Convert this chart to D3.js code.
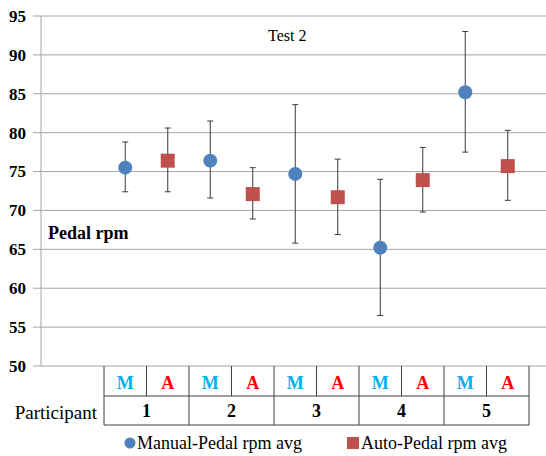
<!DOCTYPE html>
<html>
<head>
<meta charset="utf-8">
<script src="https://cdn.jsdelivr.net/npm/d3@7"></script>
<style>
  body { margin: 0; background: #fff; }
  #chart { position: relative; width: 546px; height: 456px; }
  #chart svg { position: absolute; left: 0; top: 0; display: block; }
  .lbl { position: absolute; white-space: nowrap; line-height: normal; font-family: "Liberation Serif", "Times New Roman", serif; color: #000; }
</style>
</head>
<body>
<div id="chart"></div>
<script>
const participants = ['1', '2', '3', '4', '5'];
const modes = ['M', 'A'];
const yTicks = [50, 55, 60, 65, 70, 75, 80, 85, 90, 95];

// Manual-Pedal rpm avg with error range
const manualAvg = [75.5, 76.4, 74.7, 65.2, 85.2];
const manualHi = [78.8, 81.5, 83.6, 74.0, 93.0];
const manualLo = [72.4, 71.6, 65.8, 56.5, 77.5];

// Auto-Pedal rpm avg with error range
const autoAvg = [76.4, 72.1, 71.7, 73.9, 75.7];
const autoHi = [80.6, 75.5, 76.6, 78.1, 80.3];
const autoLo = [72.4, 68.9, 66.9, 69.8, 71.3];

const width = 546, height = 456;
const axisX = 41;
const rowH = [30, 29];

const chart = d3.select('#chart');
const svg = chart.append('svg')
    .attr('width', width)
    .attr('height', height);

// text is laid out as html so the serif font is picked up
// y is the baseline, anchor like svg text-anchor
function label(x, yBase, txt, o = {}) {
    const fs = o.size || 16;
    const shift = o.anchor === 'end' ? '-100%' : o.anchor === 'middle' ? '-50%' : '0';
    return chart.append('div')
        .attr('class', 'lbl')
        .style('left', x + 'px')
        .style('top', (yBase - 0.891 * fs) + 'px')
        .style('font-size', fs + 'px')
        .style('font-weight', o.bold ? 'bold' : 'normal')
        .style('color', o.color || '#000')
        .style('transform', `translateX(${shift})`)
        .text(txt);
}

const y = d3.scaleLinear().domain([50, 95]).range([366, 16]);

const cats = participants.flatMap(p => modes.map(m => p + m));
const x = d3.scaleBand().domain(cats).range([104, 529]).padding(0);
const cx = c => x(c) + x.bandwidth() / 2;

// gridlines
svg.append('g')
    .selectAll('line')
    .data(yTicks)
    .join('line')
    .attr('x1', axisX - 8)
    .attr('x2', width)
    .attr('y1', d => y(d))
    .attr('y2', d => y(d))
    .attr('stroke', '#a6a6a6')
    .attr('stroke-width', 1);

// y axis line
svg.append('line')
    .attr('x1', axisX).attr('x2', axisX)
    .attr('y1', y(95)).attr('y2', y(50))
    .attr('stroke', '#a6a6a6');

// y tick labels
yTicks.forEach(t => label(26, y(t) + 6, t, { size: 17, bold: true, anchor: 'end' }));

// titles
label(268, 41, 'Test 2', { size: 16 });
label(48, 239, 'Pedal rpm', { size: 18, bold: true });

// error bars
const series = [
    { mode: 'M', avg: manualAvg, hi: manualHi, lo: manualLo, color: '#4f81bd' },
    { mode: 'A', avg: autoAvg, hi: autoHi, lo: autoLo, color: '#c0504d' }
];

series.forEach(s => {
    const pts = participants.map((p, i) => ({ c: p + s.mode, avg: s.avg[i], hi: s.hi[i], lo: s.lo[i] }));
    const g = svg.append('g').attr('stroke', '#3a3a3a').attr('stroke-width', 1);
    g.selectAll('.bar').data(pts).join('line')
        .attr('x1', d => cx(d.c)).attr('x2', d => cx(d.c))
        .attr('y1', d => y(d.hi)).attr('y2', d => y(d.lo));
    g.selectAll('.capHi').data(pts).join('line')
        .attr('x1', d => cx(d.c) - 3).attr('x2', d => cx(d.c) + 3)
        .attr('y1', d => y(d.hi)).attr('y2', d => y(d.hi));
    g.selectAll('.capLo').data(pts).join('line')
        .attr('x1', d => cx(d.c) - 3).attr('x2', d => cx(d.c) + 3)
        .attr('y1', d => y(d.lo)).attr('y2', d => y(d.lo));

    if (s.mode === 'M') {
        svg.append('g').selectAll('circle').data(pts).join('circle')
            .attr('cx', d => cx(d.c))
            .attr('cy', d => y(d.avg))
            .attr('r', 7)
            .attr('fill', s.color);
    } else {
        svg.append('g').selectAll('rect').data(pts).join('rect')
            .attr('x', d => cx(d.c) - 7)
            .attr('y', d => y(d.avg) - 7)
            .attr('width', 14)
            .attr('height', 14)
            .attr('fill', s.color);
    }
});

// category table
const top0 = y(50);
const top1 = top0 + rowH[0];
const top2 = top1 + rowH[1];
const [xl, xr] = x.range();
const table = svg.append('g').attr('stroke', '#404040').attr('stroke-width', 1);

table.append('line').attr('x1', xl).attr('x2', xr).attr('y1', top1).attr('y2', top1);
table.append('line').attr('x1', xl).attr('x2', xr).attr('y1', top2).attr('y2', top2);
table.append('line').attr('x1', xl).attr('x2', xl).attr('y1', top0).attr('y2', top2);
table.append('line').attr('x1', xr).attr('x2', xr).attr('y1', top0).attr('y2', top2);

table.selectAll('.v1').data(cats.slice(1)).join('line')
    .attr('x1', d => x(d)).attr('x2', d => x(d))
    .attr('y1', top0).attr('y2', top1);
table.selectAll('.v2').data(participants.slice(1)).join('line')
    .attr('x1', d => x(d + 'M')).attr('x2', d => x(d + 'M'))
    .attr('y1', top1).attr('y2', top2);

cats.forEach(c => label(cx(c), top0 + 23, c.slice(-1), {
    size: 18, bold: true, anchor: 'middle',
    color: c.endsWith('M') ? '#00b0f0' : '#ff0000'
}));

participants.forEach(p => label(x(p + 'M') + x.bandwidth(), top1 + 21, p, { size: 18, bold: true, anchor: 'middle' }));

label(97, top1 + 23, 'Participant', { size: 19, anchor: 'end' });

// legend
svg.append('circle').attr('cx', 130).attr('cy', 443).attr('r', 5.5).attr('fill', '#4f81bd');
label(137, 449, 'Manual-Pedal rpm avg', { size: 18 });
svg.append('rect').attr('x', 347).attr('y', 437).attr('width', 12).attr('height', 12).attr('fill', '#c0504d');
label(361, 449, 'Auto-Pedal rpm avg', { size: 18 });
</script>
</body>
</html>
